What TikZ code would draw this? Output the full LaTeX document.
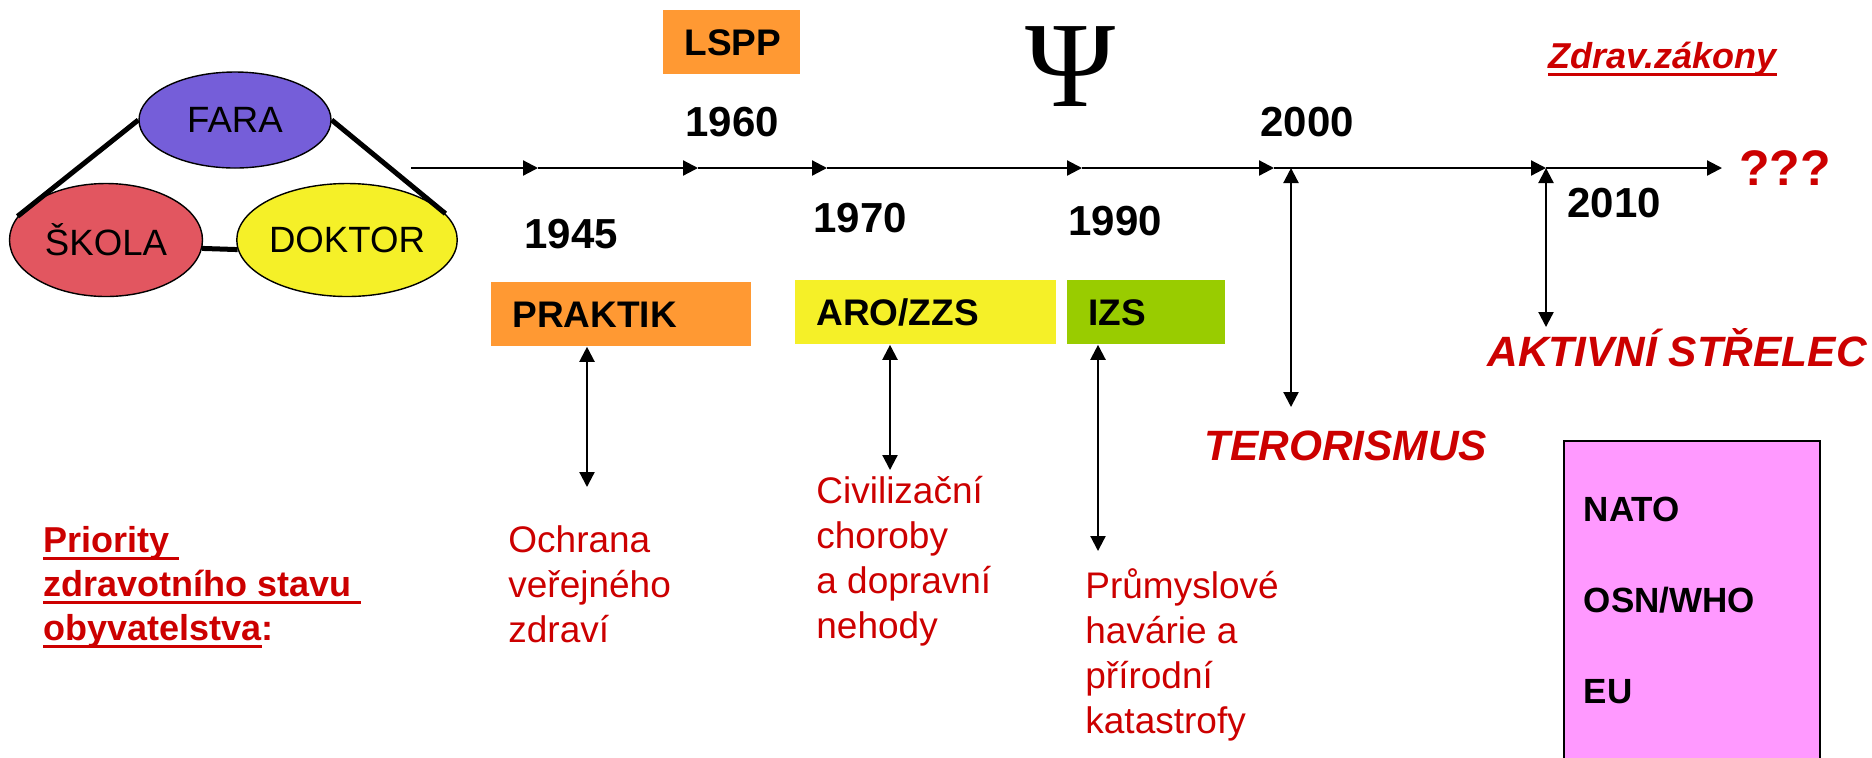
\documentclass[tikz,border=0pt]{standalone}
\usepackage{fontspec}
\setmainfont{Liberation Sans}
\newfontfamily\psifont{Liberation Serif}
\usetikzlibrary{shapes,arrows.meta,positioning,calc}
\definecolor{fara}{RGB}{117,94,217}
\definecolor{skola}{RGB}{226,86,96}
\definecolor{doktor}{RGB}{245,240,40}
\definecolor{oranz}{RGB}{255,153,51}
\definecolor{zluta}{RGB}{245,240,40}
\definecolor{zelena}{RGB}{153,204,0}
\definecolor{ruzova}{RGB}{255,153,255}
\definecolor{cervena}{RGB}{204,0,0}
\newcommand\redul[1]{\leavevmode\setbox0\hbox{#1}\rlap{\rule[-3.75pt]{\wd0}{1.5pt}}\box0}

\begin{document}
\begin{tikzpicture}[x=0.5pt,y=-0.5pt,
  >={Triangle[length=7.5pt,width=7.5pt]},
  kruh/.style={ellipse, draw, line width=0.7pt, inner sep=0pt, font=\fontsize{18.3}{22}\selectfont},
  spoj/.style={line width=2.5pt},
  osa/.style={->, line width=1.1pt},
  sipka/.style={<->, line width=1.1pt},
  rok/.style={anchor=base west, inner sep=0pt, font=\fontsize{21}{25}\selectfont\bfseries},
  stitek/.style={rectangle, fill=#1, anchor=north west, inner xsep=10.5pt, inner ysep=0pt, minimum height=32pt, align=flush left, font=\fontsize{18.5}{22}\selectfont\bfseries},
  popis/.style={anchor=base west, inner sep=0pt, text width=#1, align=flush left, text=cervena, font=\fontsize{18.5}{22.5}\selectfont},
  hrozba/.style={anchor=base west, inner sep=0pt, text=cervena, font=\fontsize{21.2}{25}\selectfont\bfseries\itshape}]
\useasboundingbox (0,0) rectangle (1872,757);

% Trojuhelnik
\node[kruh, fill=fara, minimum width=96pt, minimum height=48pt] (fara) at (235,120) {FARA};
\node[kruh, fill=skola, minimum width=96.5pt, minimum height=56.5pt] (skola) at (106,240) {ŠKOLA};
\node[kruh, fill=doktor, minimum width=96.5pt, minimum height=56.5pt] (doktor) at (347,240) {DOKTOR};
\draw[spoj] (fara.west) -- (skola.165);
\draw[spoj] (fara.east) -- (doktor.15);
\draw[spoj] (skola.-5) -- (doktor.185);

% Casova osa
\coordinate (t0) at (411,168);
\foreach \i/\x in {1/538,2/698,3/827,4/1082,5/1274,6/1546,7/1722}
  \coordinate (t\i) at (\x,168);
\foreach \i [remember=\i as \j (initially 0)] in {1,...,7}
  \draw[osa] (t\j) -- (t\i);

% Roky
\node[rok] (r1945) at (524,248) {1945};
\node[rok] (r1960) at (685,136) {1960};
\node[rok] (r1970) at (813,232) {1970};
\node[rok] (r1990) at (1068,235) {1990};
\node[rok] (r2000) at (1260,136) {2000};
\node[rok] (r2010) at (1567,217) {2010};

% Stitky
\node[stitek=oranz, text width=47.5pt, align=center] (lspp) at (663,10) {LSPP};
\node[stitek=oranz, text width=109pt] (praktik) at (491,282) {PRAKTIK};
\node[stitek=zluta, text width=109.5pt] (aro) at (795,280) {ARO/ZZS};
\node[stitek=zelena, text width=58pt] (izs) at (1067,280) {IZS};
\node[font=\psifont\fontsize{61}{61}\selectfont] (psi) at (1070,67) {Ψ};

% Dopady
\coordinate (p1) at (587,487);
\coordinate (p2) at (890,470);
\coordinate (p3) at (1098,551);
\coordinate (p4) at (1291,407);
\coordinate (p5) at (1546,327);
\draw[sipka] (praktik.south -| p1) -- (p1);
\draw[sipka] (aro.south -| p2) -- (p2);
\draw[sipka] (izs.south -| p3) -- (p3);
\draw[sipka] (p4 |- t4) -- (p4);
\draw[sipka] (t6) -- (p5);

\node[popis=90pt] (ochrana) at (508,552) {Ochrana\\veřejného\\zdraví};
\node[popis=90pt] (civil) at (816,503) {Civilizační\\choroby\\a dopravní\\nehody};
\node[popis=90pt] (prum) at (1085,598) {Průmyslové\\havárie a\\přírodní\\katastrofy};
\node[hrozba] (teror) at (1204,460) {TERORISMUS};
\node[hrozba] (strelec) at (1487,366) {AKTIVNÍ STŘELEC};

% Priority a zakony
\node[anchor=base west, inner sep=0pt, text width=170pt, align=flush left, text=cervena, font=\fontsize{18}{22}\selectfont\bfseries] (prior) at (43,552) {\redul{Priority }\\\redul{zdravotního stavu }\\\redul{obyvatelstva}:};
\node[anchor=base west, inner sep=0pt, text=cervena, font=\fontsize{18}{22}\selectfont\bfseries\itshape] (zakony) at (1548,68) {\redul{Zdrav.zákony}};
\node[anchor=base west, inner sep=0pt, text=cervena, font=\fontsize{25}{30}\selectfont\bfseries] (otazky) at (1739,185) {???};

% Organizace
\node[rectangle, draw, line width=0.9pt, fill=ruzova, anchor=north west, minimum width=128pt, minimum height=160pt, inner xsep=10pt, text width=108pt, align=flush left, font=\fontsize{17.5}{45.5}\selectfont\bfseries] (org) at (1563,440) {NATO\\OSN/WHO\\EU};
\end{tikzpicture}
\end{document}
